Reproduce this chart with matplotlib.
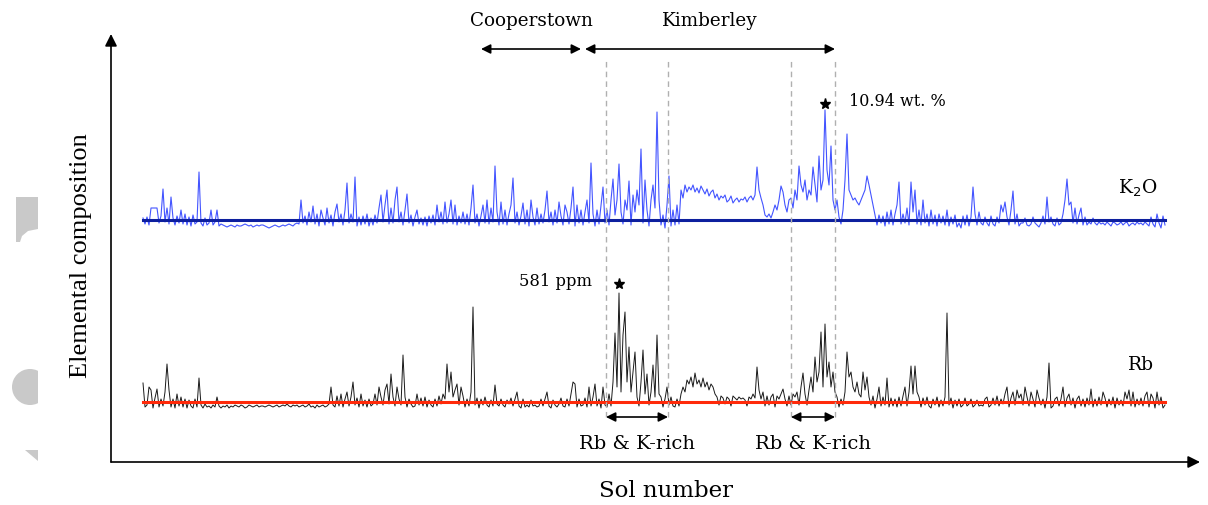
import numpy as np
import matplotlib.pyplot as plt
from matplotlib.patches import Polygon, Wedge

# K2O and Rb traces, read off the picture as height above each mean line
# (one value every 2 sols, 20 values per row)
k2o = [
    2, -4, 3, -5, 12, 12, 12, 12, -3, 4, 31, -2, 12, -4, 23, 2, -5, 4, -3, 10,
    -4, 6, -5, 3, -6, 5, -4, -2, 48, -3, -6, 2, -5, -3, 10, -5, -2, 10, -6, -4,
    -5, -6, -7, -6, -5, -6, -7, -5, -6, -6, -5, -4, -5, -6, -5, -7, -6, -5, -6, -5,
    -5, -6, -7, -8, -7, -6, -5, -6, -7, -6, -5, -6, -5, -4, -5, -6, -4, -3, -4, 20,
    -3, 4, -5, 8, -2, 14, -4, 6, -6, 10, 2, -5, 12, -3, 5, -6, 8, 16, -2, 6,
    -5, 10, 37, -3, 6, -2, 43, -6, 3, -5, 4, -4, 6, -6, 2, -5, 5, -3, 12, 25,
    -2, 15, 30, -4, 12, -3, 20, 33, -2, 8, -5, 10, 26, -3, 5, -6, 3, 10, -4, 2,
    -5, 3, -6, 4, -3, 5, -5, 15, -2, 8, -4, 18, -3, 6, 20, -4, 15, -5, 4, -3,
    8, -4, 6, -5, 12, 35, -3, 6, -6, 4, 15, -3, 20, -4, 12, -2, 54, 8, -5, 18,
    -4, 10, -5, 6, 15, 42, -3, 8, -5, 4, 17, -4, 10, -6, 20, 3, -5, 12, -4, 6,
    -3, 10, 29, -2, 8, -5, 10, -3, 18, 4, -5, 15, 8, -4, 12, 33, -6, 15, -3, 10,
    -5, 8, 20, -3, 57, 6, -6, 10, -4, 15, 33, -3, 10, -5, 20, 41, 5, 20, 56, 8,
    -4, 20, 10, 39, -5, 25, 8, 30, 15, 71, -3, 40, 10, -6, 20, 35, 12, 108, 20, -5,
    5, -8, 15, 44, -6, 10, -5, 15, -4, 30, 22, 35, 28, 33, 30, 35, 28, 32, 27, 34,
    30, 26, 31, 24, 28, 30, 22, 26, 20, 24, 22, 25, 18, 20, 24, 17, 20, 22, 18, 21,
    20, 23, 18, 22, 24, 20, 25, 53, 30, 22, 15, 5, 3, 6, 2, 8, 15, 10, 20, 34,
    28, 15, 8, 20, 22, 12, 30, 20, 54, 35, 28, 40, 20, 30, 25, 53, 35, 18, 64, 30,
    40, 110, 50, 35, 74, 20, 10, 20, 3, -4, 10, 40, 86, 30, 25, 20, 22, 18, 15, 20,
    25, 30, 44, 35, 25, 15, 5, -5, 5, -3, 4, -6, 8, -4, 10, -5, 6, 15, 38, -4,
    6, -3, 12, -5, 38, 8, 30, -4, 10, -5, 20, -3, 6, -6, 10, -4, 5, -6, 6, -3,
    4, -5, 10, -6, 3, -4, 5, -7, -3, -8, 4, -5, 5, -6, 3, 33, 6, -5, 8, -3,
    -5, 3, -3, -6, 4, -4, -6, 3, -3, 15, 8, 18, 3, -5, 10, 29, -4, 6, -6, -3,
    -3, 2, -5, -6, -4, 3, -3, -5, -7, -3, 4, -4, 23, -2, 3, -4, -6, 2, -5, -3,
    6, 20, 41, 15, 18, -3, 12, -4, 5, 12, -5, 3, -5, -2, -4, 2, -3, -5, -2, -4,
    -3, -5, -2, -4, -6, -2, -3, -5, -4, -2, -5, -3, -2, -6, -4, -3, -5, -2, -4, -3,
    -5, -2, -4, -6, 3, -4, -7, 6, -3, -8, 4, -5,
]
rb = [
    19, -5, -3, 15, 12, -6, 4, 13, -5, 3, -4, 10, 38, 12, -5, 3, -6, 8, -4, 5,
    -5, 3, -6, 2, -4, -6, 3, -5, 24, -3, -6, -2, -5, -4, -6, -3, -5, 5, -4, -6,
    -4, -5, -3, -6, -4, -5, -3, -4, -5, -3, -4, -6, -5, -3, -4, -5, -4, -3, -5, -4,
    -4, -5, -4, -3, -4, -5, -4, -3, -5, -4, -3, -4, -2, -4, -5, -3, -4, -3, -5, -4,
    -3, -5, -4, -2, -5, -4, -6, -3, -5, -4, -3, -5, -4, -2, 15, -3, -5, 6, -4, 8,
    -5, 3, 10, -4, 5, 20, -3, 4, -5, 8, -4, 2, -5, 3, -4, -2, 8, -3, 15, 5,
    -3, 12, 18, -2, 28, 5, -4, 15, 3, -3, 47, 5, -5, 3, -2, -5, -4, 8, -3, 4,
    -4, 5, -5, 2, -3, -5, 3, -4, 6, -2, 8, 3, 38, 10, 30, 5, 12, 18, -3, 15,
    6, -5, 3, -4, 10, 95, -3, 4, -6, 3, -3, 5, -3, -5, 2, -4, 17, -2, -4, 3,
    -3, -5, 2, -2, 4, -4, 3, 10, -4, -6, 3, -5, -3, -5, 2, -4, -3, -5, -4, 3,
    -4, 3, 10, -4, -6, 2, -3, -5, -2, 4, -4, -5, 3, -4, 8, 20, 18, -5, 3, -4,
    -3, 4, -5, 15, -4, 5, 18, -4, 3, -6, 15, -3, -5, 8, -4, 20, 69, 15, 109, 10,
    67, 90, 20, 55, 10, 30, 50, 5, -4, 20, 52, 8, 28, -3, 10, 37, 5, 67, 8, 5,
    -5, 3, 15, -3, 5, -4, -5, 3, -4, 8, 15, 10, 22, 18, 25, 15, 29, 18, 22, 15,
    24, 15, 20, 12, 18, 15, 8, 5, -3, 6, 4, -2, 5, 3, -4, 6, 4, 2, 5, 3,
    4, 2, -4, 5, 3, 8, 4, 35, 12, 3, 10, -4, 6, -3, 5, 8, -5, 6, 3, 8,
    13, 3, -4, 6, -3, 8, 5, 10, -3, 15, 29, 8, -3, 12, 25, 10, 45, 20, 30, 70,
    15, 78, 25, 40, 15, 30, 10, 5, -5, 3, -3, 10, 50, 25, 30, 15, 10, 20, 8, 5,
    30, 12, 25, 5, -3, 6, -6, 3, 15, -4, 5, -3, 24, -5, 4, -4, 3, -5, 5, -4,
    6, 15, -4, 10, 36, 8, 36, 10, 5, -5, 4, -3, 5, -4, -6, 3, -3, 5, -5, 2,
    -4, 5, 89, -3, 4, -6, 2, -4, 3, -5, -3, 4, -4, -2, 3, -5, -3, 2, -4, -3,
    -4, 3, 5, -5, -3, 4, -3, 6, -4, 3, -2, 8, 15, -5, 4, 10, -3, 12, 4, 8,
    -3, 15, 5, -4, 10, 3, -5, 12, 4, -3, 3, -6, 5, 39, -6, -4, 3, 5, -4, 3,
    15, -5, 4, 8, -3, 4, -6, 3, 6, -4, 3, -5, 4, -3, 13, -5, 3, -4, 5, -3,
    10, 4, -5, 3, -3, 5, -6, 4, -3, 2, -4, 10, 3, 12, -4, 10, -5, 3, -3, 4,
    -4, 6, 10, -5, 8, 4, -6, 10, -3, 5, -6, -3,
]
sol = np.arange(len(k2o)) * 2 + 1

K2O_LEVEL = 242
RB_LEVEL = 60
rich_zones = [(464, 526), (649, 693)]
mission = [('Cooperstown', 339, 439), ('Kimberley', 443, 693)]

plt.rcParams['font.family'] = ['DejaVu Serif']

fig = plt.figure(figsize=(12.08, 5.06), dpi=100)
ax = fig.add_axes([111 / 1208, 43 / 506, 1089 / 1208, 428 / 506])
ax.set_xlim(-31, 1058)
ax.set_ylim(0, 428)
ax.axis('off')

# traces and mean lines
ax.plot(sol, K2O_LEVEL + np.array(k2o), color='#2236ff', lw=0.8, alpha=0.85)
ax.axhline(K2O_LEVEL, xmin=32 / 1089, xmax=1054 / 1089, color='#0d1f9e', lw=2.2)
ax.plot(sol, RB_LEVEL + np.array(rb), color='black', lw=0.7, alpha=0.9)
ax.axhline(RB_LEVEL, xmin=32 / 1089, xmax=1054 / 1089, color='#ff2a0a', lw=2.2)

# axes as arrows
arr = dict(arrowstyle='-|>', color='black', lw=1.2, mutation_scale=18, shrinkA=0, shrinkB=0)
ax.annotate('', xy=(0, 1), xytext=(0, 0), xycoords='axes fraction', arrowprops=arr)
ax.annotate('', xy=(1, 0), xytext=(0, 0), xycoords='axes fraction', arrowprops=arr)
ax.text(-0.028, 0.485, 'Elemental composition', transform=ax.transAxes, rotation=90,
        ha='center', va='center', fontsize=19, family='Liberation Serif')
ax.text(0.51, -0.065, 'Sol number', transform=ax.transAxes, ha='center', va='center', fontsize=16.5)

# zone markers
for a, b in rich_zones:
    for x in (a, b):
        ax.plot([x, x], [45, 403], color='#b0b0b0', lw=1, ls=(0, (4, 3)))
    ax.annotate('', xy=(a, 45), xytext=(b, 45), arrowprops=dict(arrowstyle='<|-|>', color='black',
                lw=1.2, mutation_scale=14, shrinkA=0, shrinkB=0))
    ax.text((a + b) / 2, 19, 'Rb & K-rich', ha='center', va='center', fontsize=14)

for name, a, b in mission:
    ax.annotate('', xy=(a, 413), xytext=(b, 413), arrowprops=dict(arrowstyle='<|-|>', color='black',
                lw=1.2, mutation_scale=14, shrinkA=0, shrinkB=0), annotation_clip=False)
    ax.text((a + b) / 2, 442, name, ha='center', va='center', fontsize=13.2, clip_on=False)

# maxima
ax.plot(sol[int(np.argmax(k2o))], K2O_LEVEL + max(k2o) + 6, marker='*', color='black', ms=8)
ax.text(707, 361, '10.94 wt. %', ha='left', va='center', fontsize=11.5)
ax.plot(sol[int(np.argmax(rb))], RB_LEVEL + max(rb) + 9, marker='*', color='black', ms=8)
ax.text(450, 181, '581 ppm', ha='right', va='center', fontsize=11.8)

ax.text(996, 275, r'K$_2$O', ha='center', va='center', fontsize=13.5)
ax.text(999, 98, 'Rb', ha='center', va='center', fontsize=13.5)

# grey fragments at the left edge
grey = '#c9c9c9'
edge_ax = fig.add_axes([0, 0, 1, 1], zorder=-1)
edge_ax.set_xlim(0, 1208)
edge_ax.set_ylim(506, 0)
edge_ax.axis('off')
edge_ax.add_patch(Polygon([[16, 198], [38, 198], [38, 230], [28, 232], [22, 237], [20, 243], [16, 243]],
                          closed=True, color=grey, lw=0))
edge_ax.add_patch(Polygon([[25, 451], [38, 451], [38, 462]], closed=True, color=grey, lw=0))
circle = Wedge((30, 388), 18, 0, 360, color=grey, lw=0)
edge_ax.add_patch(circle)
circle.set_clip_path(Polygon([[0, 360], [38, 360], [38, 420], [0, 420]], closed=True,
                             transform=edge_ax.transData))

fig.savefig('out.png', dpi=100)
